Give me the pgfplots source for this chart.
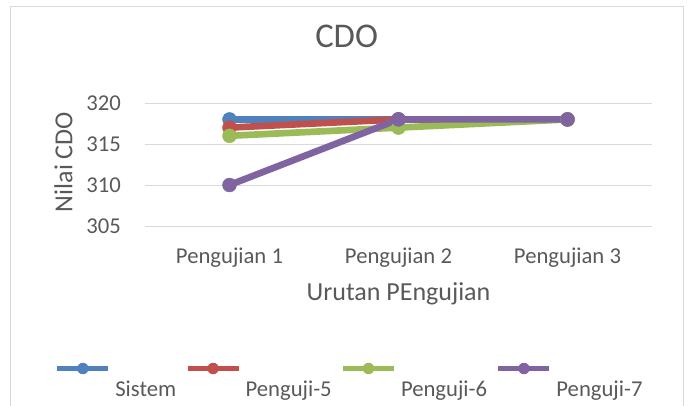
\documentclass[border=0pt]{standalone}
\usepackage{fontspec}
\setmainfont{Carlito}
\usepackage{pgfplots}
\pgfplotsset{compat=1.18}
\definecolor{cSis}{HTML}{4F81BD}
\definecolor{cP5}{HTML}{C0504D}
\definecolor{cP6}{HTML}{9BBB59}
\definecolor{cP7}{HTML}{8064A2}
\definecolor{gridc}{HTML}{D9D9D9}
\definecolor{txt}{HTML}{595959}
\begin{document}
\begin{tikzpicture}
\begin{axis}[
  at={(0pt,0pt)}, anchor=south west,
  scale only axis, width=380.25pt, height=92.25pt,
  xmin=-0.5, xmax=2.5, ymin=305, ymax=320,
  xtick={0,1,2}, xticklabels={Pengujian 1,Pengujian 2,Pengujian 3},
  ytick={305,310,315,320},
  ymajorgrids, grid style={gridc, line width=0.75pt},
  axis line style={draw=none}, tick style={draw=none},
  clip=false,
  /pgf/number format/assume math mode=true,
  tick label style={font=\fontsize{17}{20}\selectfont, text=txt},
  yticklabel style={anchor=east, inner sep=0pt, xshift=-18pt},
  xticklabel style={anchor=base, inner sep=0pt, yshift=-27.75pt},
  title={CDO},
  title style={at={(axis description cs:0.3977,1.3846)}, anchor=base, inner sep=0pt, font=\fontsize{26}{30}\selectfont, text=txt},
  xlabel={Urutan PEngujian},
  xlabel style={at={(axis description cs:0.5,0)}, anchor=base, inner sep=0pt, yshift=-55.5pt, font=\fontsize{19.5}{23}\selectfont, text=txt},
  ylabel={Nilai CDO},
  ylabel style={at={(axis description cs:-0.1434,0.52)}, anchor=base, inner sep=0pt, font=\fontsize{19.5}{23}\selectfont, text=txt},
  legend columns=4,
  legend cell align=left,
  legend image code/.code={%
    \draw[#1, line width=3.5pt] (0pt,21pt) -- (38.25pt,21pt);
    \fill[#1, draw=none] (19.125pt,21pt) circle (4.3pt);
    \path[draw=none, fill=none] (0pt,0pt) -- (43.5pt,0pt);},
  legend style={at={(axis description cs:-0.1775,-1.112)}, anchor=north west,
    draw=none, fill=none, inner sep=0pt, outer sep=0pt,
    column sep=0pt,
    cells={anchor=base west},
    nodes={inner sep=0pt, font=\fontsize{17}{20}\selectfont, text=txt},
    /tikz/every even column/.append style={column sep=6.75pt}},
]
\addplot[color=cSis, line width=5pt, mark=*, mark size=5.2pt, mark options={line width=0.4pt}] coordinates {(0,318) (1,318) (2,318)};
\addlegendentry{Sistem}
\addplot[color=cP5, line width=5pt, mark=*, mark size=5.2pt, mark options={line width=0.4pt}] coordinates {(0,317) (1,318) (2,318)};
\addlegendentry{Penguji-5}
\addplot[color=cP6, line width=5pt, mark=*, mark size=5.2pt, mark options={line width=0.4pt}] coordinates {(0,316) (1,317) (2,318)};
\addlegendentry{Penguji-6}
\addplot[color=cP7, line width=5pt, mark=*, mark size=5.2pt, mark options={line width=0.4pt}] coordinates {(0,310) (1,318) (2,318)};
\addlegendentry{Penguji-7}
\end{axis}
\draw[gridc, line width=0.75pt] (-100.5pt,-141.75pt) -- (-100.5pt,165pt) -- (403.5pt,165pt) -- (403.5pt,-141.75pt);
\pgfresetboundingbox
\path[use as bounding box] (-108.75pt,-134.25pt) rectangle (407.25pt,169.5pt);
\end{tikzpicture}
\end{document}
